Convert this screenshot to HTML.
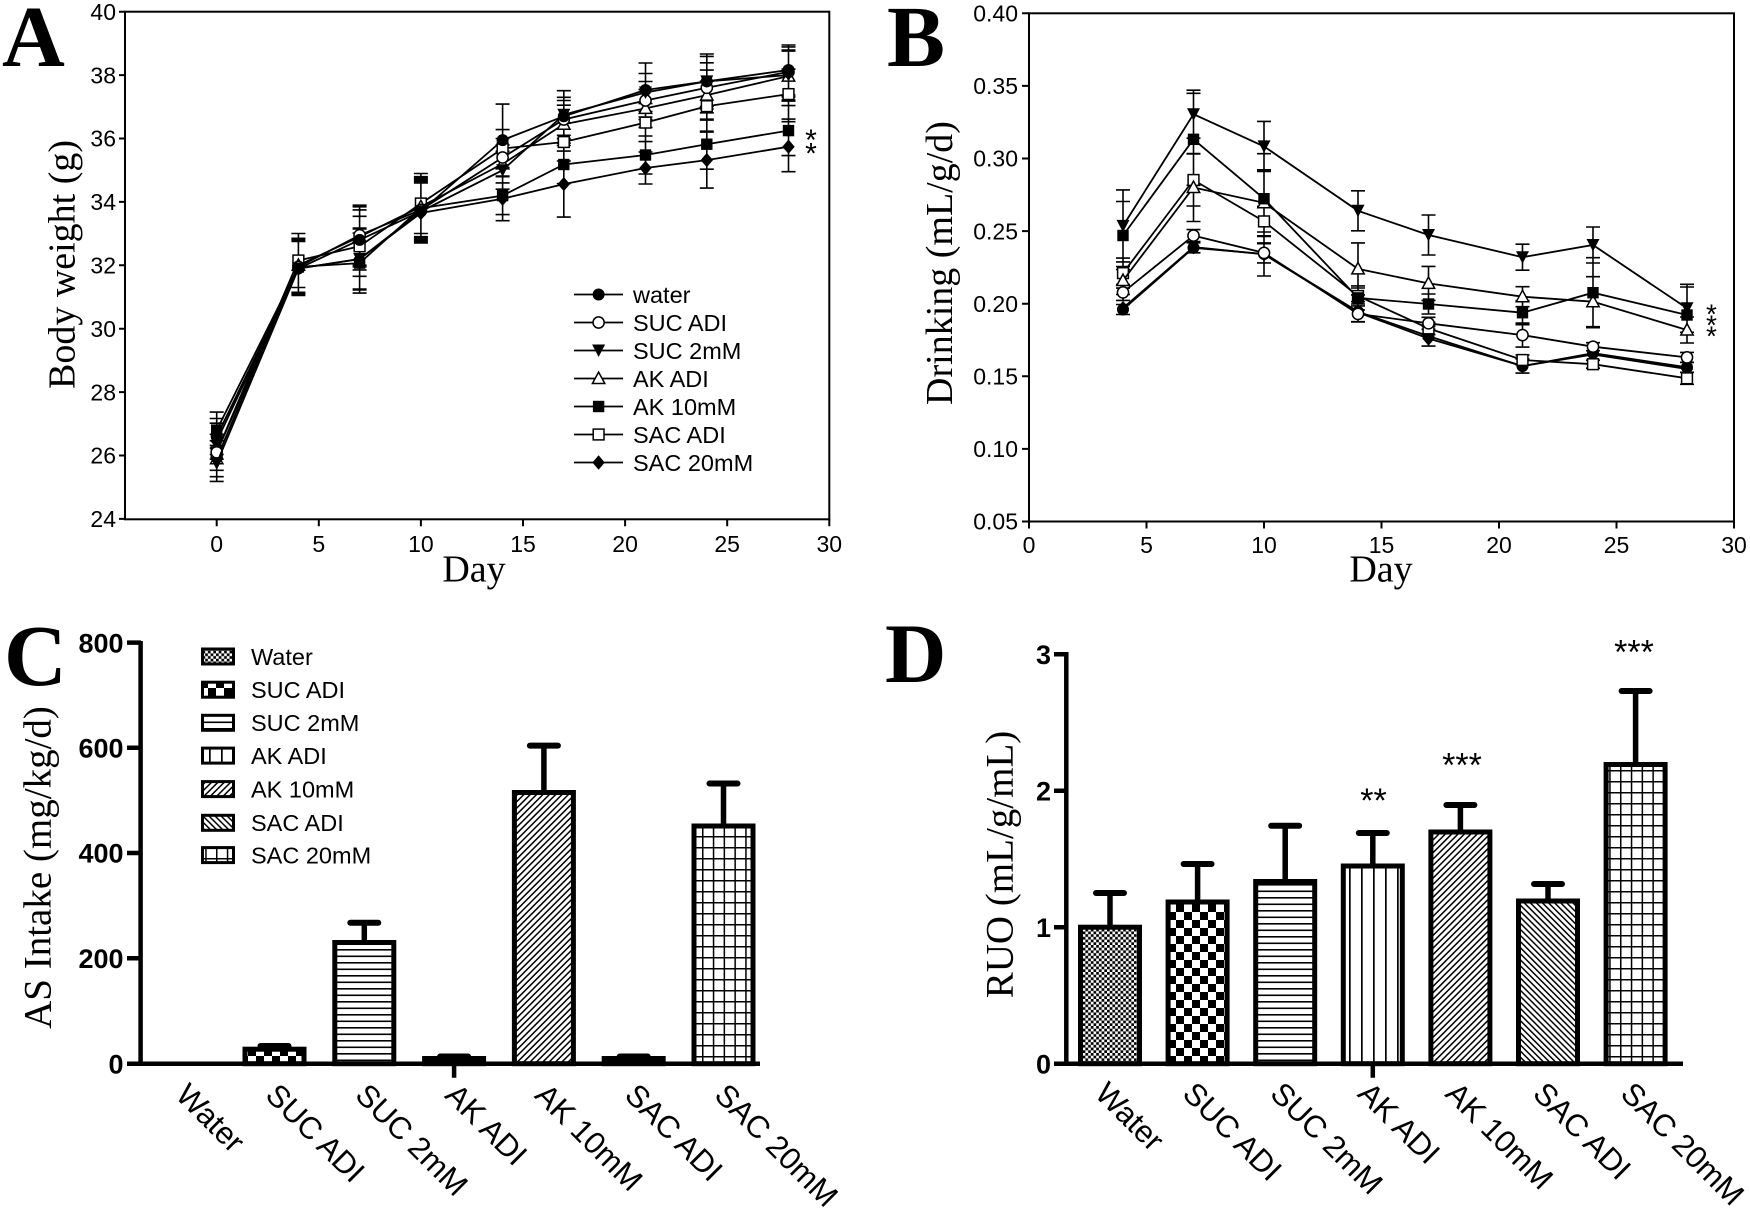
<!DOCTYPE html>
<html><head><meta charset="utf-8"><style>html,body{margin:0;padding:0;background:#fff}svg{display:block}</style></head><body>
<svg width="1750" height="1216" viewBox="0 0 1750 1216" xmlns="http://www.w3.org/2000/svg">
<defs>
<marker id="mFC" markerUnits="userSpaceOnUse" markerWidth="20" markerHeight="20" refX="10" refY="10" overflow="visible"><circle cx="10" cy="10" r="6" fill="#000"/></marker>
<marker id="mOC" markerUnits="userSpaceOnUse" markerWidth="20" markerHeight="20" refX="10" refY="10" overflow="visible"><circle cx="10" cy="10" r="5.6" fill="#fff" stroke="#000" stroke-width="1.5"/></marker>
<marker id="mFT" markerUnits="userSpaceOnUse" markerWidth="20" markerHeight="20" refX="10" refY="10" overflow="visible"><path d="M3.5,4 H16.5 L10,16.5 Z" fill="#000"/></marker>
<marker id="mOT" markerUnits="userSpaceOnUse" markerWidth="20" markerHeight="20" refX="10" refY="10" overflow="visible"><path d="M10,3.6 L16.2,15 H3.8 Z" fill="#fff" stroke="#000" stroke-width="1.5"/></marker>
<marker id="mFS" markerUnits="userSpaceOnUse" markerWidth="20" markerHeight="20" refX="10" refY="10" overflow="visible"><rect x="4.3" y="4.3" width="11.4" height="11.4" fill="#000"/></marker>
<marker id="mOS" markerUnits="userSpaceOnUse" markerWidth="20" markerHeight="20" refX="10" refY="10" overflow="visible"><rect x="4.6" y="4.6" width="10.8" height="10.8" fill="#fff" stroke="#000" stroke-width="1.5"/></marker>
<marker id="mFD" markerUnits="userSpaceOnUse" markerWidth="20" markerHeight="20" refX="10" refY="10" overflow="visible"><path d="M10,2.8 L16.2,10 L10,17.2 L3.8,10 Z" fill="#000"/></marker>

<pattern id="pW" patternUnits="userSpaceOnUse" width="5.4" height="5.4"><rect width="5.4" height="5.4" fill="#fff"/><rect width="2.7" height="2.7" fill="#000"/><rect x="2.7" y="2.7" width="2.7" height="2.7" fill="#000"/></pattern>
<pattern id="pS" patternUnits="userSpaceOnUse" width="16" height="16"><rect width="16" height="16" fill="#fff"/><rect width="8" height="8" fill="#000"/><rect x="8" y="8" width="8" height="8" fill="#000"/></pattern>
<pattern id="pH" patternUnits="userSpaceOnUse" width="10" height="6.5"><rect width="10" height="6.5" fill="#fff"/><rect width="10" height="1.6" fill="#000"/></pattern>
<pattern id="pV" patternUnits="userSpaceOnUse" width="12" height="10"><rect width="12" height="10" fill="#fff"/><rect x="5" width="1.7" height="10" fill="#000"/></pattern>
<pattern id="pD1" patternUnits="userSpaceOnUse" width="4.5" height="10" patternTransform="rotate(45)"><rect width="4.5" height="10" fill="#fff"/><rect width="1.5" height="10" fill="#000"/></pattern>
<pattern id="pD2" patternUnits="userSpaceOnUse" width="4.3" height="10" patternTransform="rotate(-45)"><rect width="4.3" height="10" fill="#fff"/><rect width="1.5" height="10" fill="#000"/></pattern>
<pattern id="pG" patternUnits="userSpaceOnUse" width="10.8" height="11"><rect width="10.8" height="11" fill="#fff"/><rect width="1.5" height="11" fill="#000"/><rect width="10.8" height="1.5" fill="#000"/></pattern>
</defs>

<rect width="1750" height="1216" fill="#fff"/>

<!-- ================= PANEL A ================= -->
<text x="2" y="66" font-family="Liberation Serif, serif" font-weight="bold" font-size="87">A</text>
<rect x="125" y="11.7" width="704.3" height="507.6" fill="none" stroke="#000" stroke-width="2"/>
<path d="M119 11.7h6M119 75.1h6M119 138.5h6M119 201.9h6M119 265.3h6M119 328.7h6M119 392.1h6M119 455.5h6M119 518.9h6
M216.7 519.3v7M318.8 519.3v7M420.9 519.3v7M523 519.3v7M625.1 519.3v7M727.2 519.3v7M829.3 519.3v7" stroke="#000" stroke-width="2" fill="none"/>
<g font-family="Liberation Sans, Arial, sans-serif" font-size="23" text-anchor="end">
<text x="116" y="19.9">40</text><text x="116" y="83.3">38</text><text x="116" y="146.7">36</text><text x="116" y="210.1">34</text><text x="116" y="273.5">32</text><text x="116" y="336.9">30</text><text x="116" y="400.3">28</text><text x="116" y="463.7">26</text><text x="116" y="527.1">24</text>
</g>
<g font-family="Liberation Sans, Arial, sans-serif" font-size="23" text-anchor="middle">
<text x="216.7" y="552">0</text><text x="318.8" y="552">5</text><text x="420.9" y="552">10</text><text x="523" y="552">15</text><text x="625.1" y="552">20</text><text x="727.2" y="552">25</text><text x="829.3" y="552">30</text>
</g>
<text x="474" y="581.5" font-family="Liberation Serif, serif" font-size="38" text-anchor="middle">Day</text>
<text transform="translate(74.5,264.5) rotate(-90)" font-family="Liberation Serif, serif" font-size="38" text-anchor="middle">Body weight (g)</text>

<path fill="none" stroke="#000" stroke-width="1.6" d="
M216.7 418.5V454.5M209.7 418.5h14M209.7 454.5h14M216.7 434.3V470.3M209.7 434.3h14M209.7 470.3h14M216.7 445.4V481.4M209.7 445.4h14M209.7 481.4h14M216.7 440.7V476.7M209.7 440.7h14M209.7 476.7h14M216.7 412.1V448.1M209.7 412.1h14M209.7 448.1h14M216.7 423.2V459.2M209.7 423.2h14M209.7 459.2h14
M298.4 241.5V295.5M291.4 241.5h14M291.4 295.5h14M298.4 239.9V293.9M291.4 239.9h14M291.4 293.9h14M298.4 238.3V292.3M291.4 238.3h14M291.4 292.3h14M298.4 233.5V287.5M291.4 233.5h14M291.4 287.5h14
M359.6 209.9V269.9M352.6 209.9h14M352.6 269.9h14M359.6 205.2V265.2M352.6 205.2h14M352.6 265.2h14M359.6 229V289M352.6 229h14M352.6 289h14M359.6 206.8V266.8M352.6 206.8h14M352.6 266.8h14M359.6 233.1V293.1M352.6 233.1h14M352.6 293.1h14M359.6 216.3V276.3M352.6 216.3h14M352.6 276.3h14M359.6 228V290M352.6 228h14M352.6 290h14
M420.9 181.4V241.4M413.9 181.4h14M413.9 241.4h14M420.9 179.8V239.8M413.9 179.8h14M413.9 239.8h14M420.9 180V243M413.9 180h14M413.9 243h14M420.9 176.7V236.7M413.9 176.7h14M413.9 236.7h14M420.9 178.2V238.2M413.9 178.2h14M413.9 238.2h14M420.9 173.5V233.5M413.9 173.5h14M413.9 233.5h14M420.9 183V243M413.9 183h14M413.9 243h14
M502.6 104.1V176.1M495.6 104.1h14M495.6 176.1h14M502.6 138.5V176.5M495.6 138.5h14M495.6 176.5h14M502.6 151.2V189.2M495.6 151.2h14M495.6 189.2h14M502.6 144.9V182.9M495.6 144.9h14M495.6 182.9h14M502.6 176.6V214.6M495.6 176.6h14M495.6 214.6h14M502.6 129.6V167.6M495.6 129.6h14M495.6 167.6h14M502.6 176.7V220.7M495.6 176.7h14M495.6 220.7h14
M563.8 97.3V135.3M556.8 97.3h14M556.8 135.3h14M563.8 100.5V138.5M556.8 100.5h14M556.8 138.5h14M563.8 90.7V138.7M556.8 90.7h14M556.8 138.7h14M563.8 105.2V143.2M556.8 105.2h14M556.8 143.2h14M563.8 145.5V183.5M556.8 145.5h14M556.8 183.5h14M563.8 123V161M556.8 123h14M556.8 161h14M563.8 151.1V217.1M556.8 151.1h14M556.8 217.1h14
M645.5 63V117M638.5 63h14M638.5 117h14M645.5 81.5V119.5M638.5 81.5h14M638.5 119.5h14M645.5 73.5V111.5M638.5 73.5h14M638.5 111.5h14M645.5 89.4V127.4M638.5 89.4h14M638.5 127.4h14M645.5 136V174M638.5 136h14M638.5 174h14M645.5 103.6V141.6M638.5 103.6h14M638.5 141.6h14M645.5 152V184M638.5 152h14M638.5 184h14
M706.8 56.4V106.4M699.8 56.4h14M699.8 106.4h14M706.8 62.8V112.8M699.8 62.8h14M699.8 112.8h14M706.8 54V109M699.8 54h14M699.8 109h14M706.8 70.1V120.1M699.8 70.1h14M699.8 120.1h14M706.8 119.2V169.2M699.8 119.2h14M699.8 169.2h14M706.8 81.2V131.2M699.8 81.2h14M699.8 131.2h14M706.8 132.1V188.1M699.8 132.1h14M699.8 188.1h14
M788.5 45V95M781.5 45h14M781.5 95h14M788.5 46.9V96.9M781.5 46.9h14M781.5 96.9h14M788.5 50.1V100.1M781.5 50.1h14M781.5 100.1h14M788.5 51.1V101.1M781.5 51.1h14M781.5 101.1h14M788.5 105.6V155.6M781.5 105.6h14M781.5 155.6h14M788.5 69.1V119.1M781.5 69.1h14M781.5 119.1h14M788.5 121.7V171.7M781.5 121.7h14M781.5 171.7h14"/>

<g fill="none" stroke="#000" stroke-width="1.8">
<polyline points="216.7,441.2 298.4,268.5 359.6,259 420.9,213 502.6,198.7 563.8,184.1 645.5,168 706.8,160.1 788.5,146.7" marker-start="url(#mFD)" marker-mid="url(#mFD)" marker-end="url(#mFD)"/>
<polyline points="216.7,430.1 298.4,266.9 359.6,263.1 420.9,208.2 502.6,195.6 563.8,164.5 645.5,155 706.8,144.2 788.5,130.6" marker-start="url(#mFS)" marker-mid="url(#mFS)" marker-end="url(#mFS)"/>
<polyline points="216.7,452.3 298.4,260.5 359.6,246.3 420.9,203.5 502.6,148.6 563.8,142 645.5,122.6 706.8,106.2 788.5,94.1" marker-start="url(#mOS)" marker-mid="url(#mOS)" marker-end="url(#mOS)"/>
<polyline points="216.7,458.7 298.4,265.3 359.6,236.8 420.9,206.7 502.6,163.9 563.8,124.2 645.5,108.4 706.8,95.1 788.5,76.1" marker-start="url(#mOT)" marker-mid="url(#mOT)" marker-end="url(#mOT)"/>
<polyline points="216.7,452.3 298.4,266.9 359.6,235.2 420.9,209.8 502.6,157.5 563.8,119.5 645.5,100.5 706.8,87.8 788.5,71.9" marker-start="url(#mOC)" marker-mid="url(#mOC)" marker-end="url(#mOC)"/>
<polyline points="216.7,463.4 298.4,268.5 359.6,259 420.9,211.4 502.6,170.2 563.8,114.7 645.5,92.5 706.8,81.4 788.5,75.1" marker-start="url(#mFT)" marker-mid="url(#mFT)" marker-end="url(#mFT)"/>
<polyline points="216.7,436.5 298.4,268.5 359.6,239.9 420.9,211.4 502.6,140.1 563.8,116.3 645.5,90 706.8,81.4 788.5,70" marker-start="url(#mFC)" marker-mid="url(#mFC)" marker-end="url(#mFC)"/>
</g>
<g font-family="Liberation Sans, Arial, sans-serif" font-size="30" text-anchor="middle">
<text x="811" y="150">*</text><text x="811" y="163.5">*</text>
</g>
<!-- legend A -->
<g fill="none" stroke="#000" stroke-width="1.8">
<polyline points="574,294.5 598.6,294.5 623,294.5" marker-mid="url(#mFC)"/>
<polyline points="574,322.5 598.6,322.5 623,322.5" marker-mid="url(#mOC)"/>
<polyline points="574,350.5 598.6,350.5 623,350.5" marker-mid="url(#mFT)"/>
<polyline points="574,378.5 598.6,378.5 623,378.5" marker-mid="url(#mOT)"/>
<polyline points="574,406.5 598.6,406.5 623,406.5" marker-mid="url(#mFS)"/>
<polyline points="574,434.5 598.6,434.5 623,434.5" marker-mid="url(#mOS)"/>
<polyline points="574,462.5 598.6,462.5 623,462.5" marker-mid="url(#mFD)"/>
</g>
<g font-family="Liberation Sans, Arial, sans-serif" font-size="23.5">
<text x="633" y="302.9">water</text><text x="633" y="330.9">SUC ADI</text><text x="633" y="358.9">SUC 2mM</text><text x="633" y="386.9">AK ADI</text><text x="633" y="414.9">AK 10mM</text><text x="633" y="442.9">SAC ADI</text><text x="633" y="470.9">SAC 20mM</text>
</g>

<!-- ================= PANEL B ================= -->
<text x="887" y="66" font-family="Liberation Serif, serif" font-weight="bold" font-size="87">B</text>
<rect x="1029" y="13.3" width="705" height="508.2" fill="none" stroke="#000" stroke-width="2"/>
<path d="M1022 13.3h7M1022 85.9h7M1022 158.5h7M1022 231.1h7M1022 303.7h7M1022 376.3h7M1022 448.9h7M1022 521.5h7
M1029 521.5v7M1146.5 521.5v7M1264 521.5v7M1381.5 521.5v7M1499 521.5v7M1616.5 521.5v7M1734 521.5v7" stroke="#000" stroke-width="2" fill="none"/>
<g font-family="Liberation Sans, Arial, sans-serif" font-size="23" text-anchor="end">
<text x="1018" y="21.5">0.40</text><text x="1018" y="94.1">0.35</text><text x="1018" y="166.7">0.30</text><text x="1018" y="239.3">0.25</text><text x="1018" y="311.9">0.20</text><text x="1018" y="384.5">0.15</text><text x="1018" y="457.1">0.10</text><text x="1018" y="529.7">0.05</text>
</g>
<g font-family="Liberation Sans, Arial, sans-serif" font-size="23" text-anchor="middle">
<text x="1029" y="553">0</text><text x="1146.5" y="553">5</text><text x="1264" y="553">10</text><text x="1381.5" y="553">15</text><text x="1499" y="553">20</text><text x="1616.5" y="553">25</text><text x="1734" y="553">30</text>
</g>
<text x="1381" y="581.5" font-family="Liberation Serif, serif" font-size="38" text-anchor="middle">Day</text>
<text transform="translate(952,263) rotate(-90)" font-family="Liberation Serif, serif" font-size="38" text-anchor="middle">Drinking (mL/g/d)</text>

<path fill="none" stroke="#000" stroke-width="1.6" d="
M1123 189.9V261.9M1116 189.9h14M1116 261.9h14M1123 201.5V269.5M1116 201.5h14M1116 269.5h14M1123 266.5V294.5M1116 266.5h14M1116 294.5h14M1123 258.1V288.1M1116 258.1h14M1116 288.1h14M1123 284.4V300.4M1116 284.4h14M1116 300.4h14M1123 304.5V314.5M1116 304.5h14M1116 314.5h14
M1193.5 90.2V138.2M1186.5 90.2h14M1186.5 138.2h14M1193.5 93.3V185.3M1186.5 93.3h14M1186.5 185.3h14M1193.5 154V206M1186.5 154h14M1186.5 206h14M1193.5 153.5V221.5M1186.5 153.5h14M1186.5 221.5h14M1193.5 229.6V241.6M1186.5 229.6h14M1186.5 241.6h14M1193.5 242.8V252.8M1186.5 242.8h14M1186.5 252.8h14
M1264 121.4V171.4M1257 121.4h14M1257 171.4h14M1264 153.7V243.7M1257 153.7h14M1257 243.7h14M1264 169.8V235.8M1257 169.8h14M1257 235.8h14M1264 206.4V236.4M1257 206.4h14M1257 236.4h14M1264 232V276M1257 232h14M1257 276h14M1264 242.9V262.9M1257 242.9h14M1257 262.9h14
M1358 190.8V230.8M1351 190.8h14M1351 230.8h14M1358 242.9V294.9M1351 242.9h14M1351 294.9h14M1358 285.9V309.9M1351 285.9h14M1351 309.9h14M1358 288V304M1351 288h14M1351 304h14M1358 305.9V321.9M1351 305.9h14M1351 321.9h14M1358 301.7V321.7M1351 301.7h14M1351 321.7h14
M1428.5 215V255M1421.5 215h14M1421.5 255h14M1428.5 266.4V300.4M1421.5 266.4h14M1421.5 300.4h14M1428.5 294V314M1421.5 294h14M1421.5 314h14M1428.5 322.4V334.4M1421.5 322.4h14M1421.5 334.4h14M1428.5 317.3V329.3M1421.5 317.3h14M1421.5 329.3h14M1428.5 326.1V346.1M1421.5 326.1h14M1421.5 346.1h14
M1522.5 244.2V270.2M1515.5 244.2h14M1515.5 270.2h14M1522.5 286.7V306.7M1515.5 286.7h14M1515.5 306.7h14M1522.5 300.7V324.7M1515.5 300.7h14M1515.5 324.7h14M1522.5 323.1V347.1M1515.5 323.1h14M1515.5 347.1h14M1522.5 355V365M1515.5 355h14M1515.5 365h14M1522.5 359.1V373.1M1515.5 359.1h14M1515.5 373.1h14
M1593 227V263M1586 227h14M1586 263h14M1593 257.7V327.7M1586 257.7h14M1586 327.7h14M1593 276.7V326.7M1586 276.7h14M1586 326.7h14M1593 342.7V350.7M1586 342.7h14M1586 350.7h14M1593 360.2V368.2M1586 360.2h14M1586 368.2h14
M1687 284.3V332.3M1680 284.3h14M1680 332.3h14M1687 287V343M1680 287h14M1680 343h14M1687 317V343M1680 317h14M1680 343h14M1687 372.3V384.3M1680 372.3h14M1680 384.3h14M1687 352.4V362.4M1680 352.4h14M1680 362.4h14M1687 362.3V372.3M1680 362.3h14M1680 372.3h14"/>

<g fill="none" stroke="#000" stroke-width="1.8">
<polyline points="1123,308.1 1193.5,247.1 1264,254.3 1358,312.4 1428.5,338.5 1522.5,366.1 1593,354.5 1687,369" marker-start="url(#mFD)" marker-mid="url(#mFD)" marker-end="url(#mFD)"/>
<polyline points="1123,309.5 1193.5,247.8 1264,254 1358,311.7 1428.5,336.1 1522.5,366.1 1593,353.1 1687,367.3" marker-start="url(#mFC)" marker-mid="url(#mFC)" marker-end="url(#mFC)"/>
<polyline points="1123,273.1 1193.5,180 1264,221.4 1358,296 1428.5,328.4 1522.5,360 1593,364.2 1687,378.3" marker-start="url(#mOS)" marker-mid="url(#mOS)" marker-end="url(#mOS)"/>
<polyline points="1123,292.4 1193.5,235.6 1264,252.9 1358,313.9 1428.5,323.3 1522.5,335.1 1593,346.7 1687,357.4" marker-start="url(#mOC)" marker-mid="url(#mOC)" marker-end="url(#mOC)"/>
<polyline points="1123,280.5 1193.5,187.5 1264,202.8 1358,268.9 1428.5,283.4 1522.5,296.7 1593,301.7 1687,330" marker-start="url(#mOT)" marker-mid="url(#mOT)" marker-end="url(#mOT)"/>
<polyline points="1123,235.5 1193.5,139.3 1264,198.7 1358,297.9 1428.5,304 1522.5,312.7 1593,292.7 1687,315" marker-start="url(#mFS)" marker-mid="url(#mFS)" marker-end="url(#mFS)"/>
<polyline points="1123,225.9 1193.5,114.2 1264,146.4 1358,210.8 1428.5,235 1522.5,257.2 1593,245 1687,308.3" marker-start="url(#mFT)" marker-mid="url(#mFT)" marker-end="url(#mFT)"/>
</g>
<g font-family="Liberation Sans, Arial, sans-serif" font-size="28" text-anchor="middle">
<text x="1711.5" y="323.5">*</text><text x="1711.5" y="334.5">*</text><text x="1711.5" y="345.5">*</text>
</g>

<!-- ================= PANEL C ================= -->
<text x="4" y="685" font-family="Liberation Serif, serif" font-weight="bold" font-size="87">C</text>
<g stroke="#000" stroke-width="5" stroke-linejoin="miter">
<rect x="245" y="1049.2" width="59" height="14.5" fill="url(#pS)"/>
<rect x="334.8" y="942.5" width="59" height="121.2" fill="url(#pH)"/>
<rect x="424.6" y="1058.5" width="59" height="5.2" fill="#000"/>
<rect x="514.4" y="792.5" width="59" height="271.2" fill="url(#pD1)"/>
<rect x="604.2" y="1058.5" width="59" height="5.2" fill="#000"/>
<rect x="694" y="826" width="59" height="237.7" fill="url(#pG)"/>
</g>
<g stroke="#000" fill="none">
<path stroke-width="5.5" d="M364.3 942.5V922.7M543.9 792.5V745.6M723.5 826V783.5"/>
<path stroke-width="6" stroke-linecap="round" d="M260.5 1046h28M350.3 922.7h28M440.1 1056.5h28M529.9 745.6h28M619.7 1056.5h28M709.5 783.5h28"/>
<path stroke-width="4.5" d="M140.6 641V1066M138.4 1063.7H760M127 642.6h14M127 747.8h14M127 853h14M127 958.2h14M127 1063.7h14M454.1 1063.7v14"/>
</g>
<g font-family="Liberation Sans, Arial, sans-serif" font-size="27" font-weight="bold" text-anchor="end">
<text x="123.5" y="652.3">800</text><text x="123.5" y="757.5">600</text><text x="123.5" y="862.7">400</text><text x="123.5" y="967.9">200</text><text x="123.5" y="1073.4">0</text>
</g>
<text transform="translate(50.6,867.5) rotate(-90)" font-family="Liberation Serif, serif" font-size="39" text-anchor="middle">AS Intake (mg/kg/d)</text>
<!-- legend C -->
<g stroke="#000" stroke-width="3">
<rect x="202.5" y="649" width="31" height="15" fill="url(#pW)"/>
<rect x="202.5" y="682.2" width="31" height="15" fill="url(#pS)"/>
<rect x="202.5" y="715.3" width="31" height="15" fill="url(#pH)"/>
<rect x="202.5" y="748.1" width="31" height="15" fill="url(#pV)"/>
<rect x="202.5" y="781.6" width="31" height="15" fill="url(#pD1)"/>
<rect x="202.5" y="815.3" width="31" height="15" fill="url(#pD2)"/>
<rect x="202.5" y="847.6" width="31" height="15" fill="url(#pG)"/>
</g>
<g font-family="Liberation Sans, Arial, sans-serif" font-size="23.5">
<text x="251" y="664.8">Water</text><text x="251" y="698">SUC ADI</text><text x="251" y="731.1">SUC 2mM</text><text x="251" y="763.9">AK ADI</text><text x="251" y="797.4">AK 10mM</text><text x="251" y="831.1">SAC ADI</text><text x="251" y="863.4">SAC 20mM</text>
</g>
<g font-family="Liberation Sans, Arial, sans-serif" font-size="31">
<text transform="translate(174.2,1096.7) rotate(45)">Water</text>
<text transform="translate(264,1096.7) rotate(45)">SUC ADI</text>
<text transform="translate(353.8,1096.7) rotate(45)">SUC 2mM</text>
<text transform="translate(443.6,1096.7) rotate(45)">AK ADI</text>
<text transform="translate(533.4,1096.7) rotate(45)">AK 10mM</text>
<text transform="translate(623.2,1096.7) rotate(45)">SAC ADI</text>
<text transform="translate(713,1096.7) rotate(45)">SAC 20mM</text>
</g>

<!-- ================= PANEL D ================= -->
<text x="885" y="682" font-family="Liberation Serif, serif" font-weight="bold" font-size="85">D</text>
<g stroke="#000" stroke-width="5">
<rect x="1080.5" y="927.2" width="59" height="136.5" fill="url(#pW)"/>
<rect x="1168.1" y="902" width="59" height="161.7" fill="url(#pS)"/>
<rect x="1255.7" y="881.5" width="59" height="182.2" fill="url(#pH)"/>
<rect x="1343.3" y="866" width="59" height="197.7" fill="url(#pV)"/>
<rect x="1430.9" y="832" width="59" height="231.7" fill="url(#pD1)"/>
<rect x="1518.5" y="901" width="59" height="162.7" fill="url(#pD2)"/>
<rect x="1606.1" y="764.5" width="59" height="299.2" fill="url(#pG)"/>
</g>
<g stroke="#000" fill="none">
<path stroke-width="5.5" d="M1110 927.2V893M1197.6 902V864M1285.2 881.5V825.8M1372.8 866V833M1460.4 832V805M1548 901V884M1635.6 764.5V691"/>
<path stroke-width="6" stroke-linecap="round" d="M1096 893h28M1183.6 864h28M1271.2 825.8h28M1358.8 833h28M1446.4 805h28M1534 884h28M1621.6 691h28"/>
<path stroke-width="4.5" d="M1066.3 652V1066M1064 1063.7H1683M1054 654.2h12M1054 790.7h12M1054 927.2h12M1054 1063.7h12M1372.8 1063.7v14"/>
</g>
<g font-family="Liberation Sans, Arial, sans-serif" font-size="27" font-weight="bold" text-anchor="end">
<text x="1051" y="663.9">3</text><text x="1051" y="800.4">2</text><text x="1051" y="936.9">1</text><text x="1051" y="1073.4">0</text>
</g>
<text transform="translate(1012.6,864.5) rotate(-90)" font-family="Liberation Serif, serif" font-size="39" text-anchor="middle">RUO (mL/g/mL)</text>
<g font-family="Liberation Sans, Arial, sans-serif" font-size="34" text-anchor="middle">
<text x="1373.5" y="812">**</text>
<text x="1462" y="776.4">***</text>
<text x="1634" y="663.4">***</text>
</g>
<g font-family="Liberation Sans, Arial, sans-serif" font-size="31">
<text transform="translate(1093.5,1095.2) rotate(45)">Water</text>
<text transform="translate(1181.1,1095.2) rotate(45)">SUC ADI</text>
<text transform="translate(1268.7,1095.2) rotate(45)">SUC 2mM</text>
<text transform="translate(1356.3,1095.2) rotate(45)">AK ADI</text>
<text transform="translate(1443.9,1095.2) rotate(45)">AK 10mM</text>
<text transform="translate(1531.5,1095.2) rotate(45)">SAC ADI</text>
<text transform="translate(1619.1,1095.2) rotate(45)">SAC 20mM</text>
</g>
</svg>
</body></html>
